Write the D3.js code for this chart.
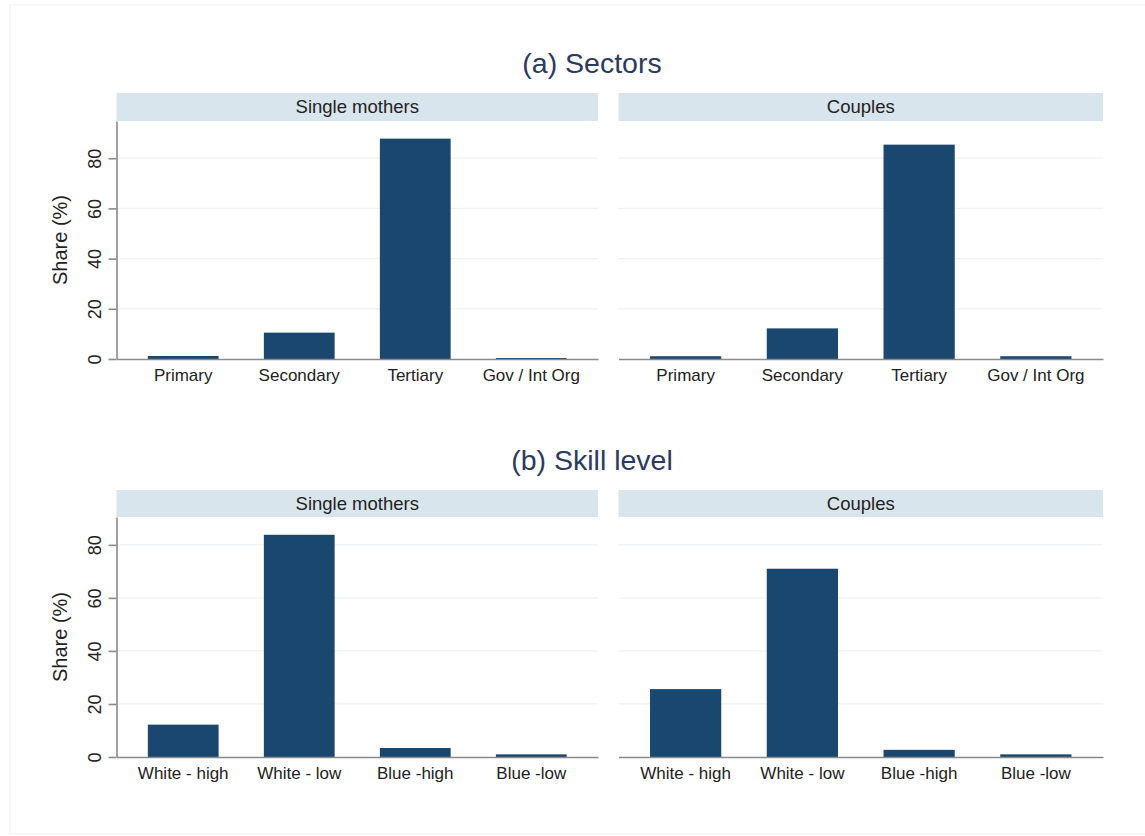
<!DOCTYPE html>
<html>
<head>
<meta charset="utf-8">
<script src="https://cdn.jsdelivr.net/npm/d3@7"></script>
<style>
  body { margin: 0; background: #fff; }
  text { font-family: "Liberation Sans", Arial, sans-serif; }
</style>
</head>
<body>
<div id="chart"></div>
<script>
// Categories and shares (%).
var groupLabels = ["Single mothers", "Couples"];

var sectorCats = ["Primary", "Secondary", "Tertiary", "Gov / Int Org"];
var sectorSingle = [1.2, 10.5, 87.8, 0.4];
var sectorCouples = [1.1, 12.2, 85.4, 1.1];

var skillCats = ["White - high", "White - low", "Blue -high", "Blue -low"];
var skillSingle = [12.2, 83.8, 3.4, 1.0];
var skillCouples = [25.6, 71.0, 2.7, 1.0];

var yTicks = [0, 20, 40, 60, 80];

// Page size.
var width = 1145, height = 836;

var barColor = "#1a476f",
    stripColor = "#d9e5ec",
    gridColor = "#eef2f5",
    axisColor = "#8a8a8a";

var svg = d3.select("#chart")
    .append("svg")
        .attr("width", width)
        .attr("height", height);

svg.append("rect")
    .attr("x", 10).attr("y", 5)
    .attr("width", 1140).attr("height", 829)
    .attr("fill", "#fff")
    .attr("stroke", "#f1f1f1");

// Horizontal spans of the two facets.
var facetX = [[116.5, 598], [618.5, 1103]];

// One row of the figure: title, two facets with strips.
var rows = [
    {title: "(a) Sectors", titleY: 73, stripTop: 93, plotTop: 121, plotBottom: 359,
     cats: sectorCats, series: [sectorSingle, sectorCouples]},
    {title: "(b) Skill level", titleY: 470, stripTop: 490, plotTop: 517, plotBottom: 757,
     cats: skillCats, series: [skillSingle, skillCouples]}
];

rows.forEach(function(row){
    svg.append("text")
        .attr("x", 592)
        .attr("y", row.titleY)
        .attr("text-anchor", "middle")
        .attr("font-size", "28.5px")
        .attr("fill", "#2b3a5f")
        .text(row.title);

    // Both facets share the same y scale; Stata pads a little above the max.
    var yMax = d3.max(row.series, function(s){ return d3.max(s); }) * 1.08;
    var y = d3.scaleLinear()
        .domain([0, yMax])
        .range([row.plotBottom, row.plotTop]);

    row.series.forEach(function(values, k){
        var x0 = facetX[k][0], x1 = facetX[k][1];
        var g = svg.append("g");

        // Strip header.
        g.append("rect")
            .attr("x", x0).attr("y", row.stripTop)
            .attr("width", x1 - x0).attr("height", row.plotTop - row.stripTop)
            .attr("fill", stripColor);

        g.append("text")
            .attr("x", (x0 + x1) / 2)
            .attr("y", row.stripTop + 20)
            .attr("text-anchor", "middle")
            .attr("font-size", "18.5px")
            .attr("fill", "#222")
            .text(groupLabels[k]);

        // Gridlines.
        g.selectAll(".grid")
            .data(yTicks.filter(function(t){ return t > 0; }))
            .enter().append("line")
                .attr("x1", x0).attr("x2", x1)
                .attr("y1", function(d){ return y(d); })
                .attr("y2", function(d){ return y(d); })
                .attr("stroke", gridColor)
                .attr("stroke-width", 1.2);

        var x = d3.scaleBand()
            .domain(row.cats)
            .range([x0, x1])
            .paddingInner(0.39)
            .paddingOuter(0.27);

        g.selectAll(".bar")
            .data(values)
            .enter().append("rect")
                .attr("x", function(d, i){ return x(row.cats[i]); })
                .attr("y", function(d){ return y(d); })
                .attr("width", x.bandwidth())
                .attr("height", function(d){ return y(0) - y(d); })
                .attr("fill", barColor);

        // Baseline and category labels.
        var xAxis = d3.axisBottom(x).tickSize(0).tickPadding(10);
        var ax = g.append("g")
            .attr("transform", "translate(0, " + y(0) + ")")
            .call(xAxis);
        ax.select(".domain")
            .attr("stroke", axisColor)
            .attr("stroke-width", 1.6);
        ax.selectAll("text")
            .attr("font-size", "17px")
            .attr("fill", "#222")
            .attr("font-family", "Liberation Sans, Arial, sans-serif");

        // Y axis only on the left facet.
        if (k === 0) {
            var yAxis = d3.axisLeft(y)
                .tickValues(yTicks)
                .tickSize(8)
                .tickPadding(0)
                .tickSizeOuter(0);
            var ay = g.append("g")
                .attr("transform", "translate(" + x0 + ", 0)")
                .call(yAxis);
            ay.selectAll("line, path")
                .attr("stroke", axisColor)
                .attr("stroke-width", 1.6);
            ay.selectAll("text")
                .attr("font-size", "18px")
                .attr("fill", "#222")
                .attr("font-family", "Liberation Sans, Arial, sans-serif")
                .attr("text-anchor", "middle")
                .attr("dy", null)
                .attr("transform", function(d){ return "translate(-16, 0) rotate(-90)"; })
                .attr("x", 0)
                .attr("y", 0);

            svg.append("text")
                .attr("transform", "translate(67, " + ((row.plotTop + row.plotBottom) / 2) + ") rotate(-90)")
                .attr("text-anchor", "middle")
                .attr("font-size", "20px")
                .attr("fill", "#222")
                .text("Share (%)");
        }
    });
});
</script>
</body>
</html>
